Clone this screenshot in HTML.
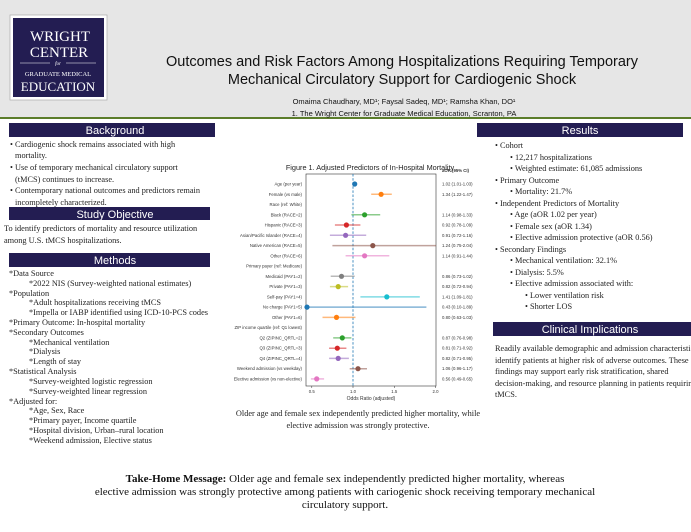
<!DOCTYPE html>
<html><head><meta charset="utf-8"><style>
html,body{margin:0;padding:0;background:#fff;}
svg{display:block}
.s{font-family:"Liberation Serif",serif;font-size:8.3px;fill:#222}
.h{font-family:"Liberation Sans",sans-serif;font-size:11px;fill:#fff}
.l{font-family:"Liberation Sans",sans-serif;font-size:4.3px;fill:#333}
</style></head><body>
<svg width="691" height="532" viewBox="0 0 691 532" xmlns="http://www.w3.org/2000/svg">
<rect x="0" y="0" width="691" height="117" fill="#e6e6e6"/>
<rect x="0" y="117" width="691" height="2" fill="#5b7d2b"/>
<!-- logo -->
<rect x="10" y="15" width="97" height="85" fill="#fff" stroke="#aaa" stroke-width="0.7"/>
<rect x="13" y="18" width="91" height="79" fill="#231d52"/>
<g font-family="Liberation Serif,serif" fill="#fff" text-anchor="middle">
<text x="60" y="41" font-size="15">WRIGHT</text>
<text x="59" y="57" font-size="15">CENTER</text>
<line x1="20" y1="63" x2="50" y2="63" stroke="#fff" stroke-width="0.5"/><line x1="66" y1="63" x2="96" y2="63" stroke="#fff" stroke-width="0.5"/>
<text x="58" y="65" font-size="5" font-style="italic">for</text>
<text x="58" y="76" font-size="6.5">GRADUATE MEDICAL</text>
<text x="58" y="91" font-size="13">EDUCATION</text>
</g>
<g font-family="Liberation Sans,sans-serif" fill="#111" text-anchor="middle">
<text x="402" y="66" font-size="14.5">Outcomes and Risk Factors Among Hospitalizations Requiring Temporary</text>
<text x="402" y="84" font-size="14.5">Mechanical Circulatory Support for Cardiogenic Shock</text>
<text x="404" y="104" font-size="7.5">Omaima Chaudhary, MD¹; Faysal Sadeq, MD¹; Ramsha Khan, DO¹</text>
<text x="404" y="116" font-size="7.5">1. The Wright Center for Graduate Medical Education, Scranton, PA</text>
</g>
<!-- left column -->
<rect x="9" y="123" width="206" height="14" fill="#231d52"/>
<text class="h" x="115" y="134" text-anchor="middle">Background</text>
<g class="s">
<text x="10" y="147">•  Cardiogenic shock remains associated with high</text>
<text x="15" y="158">mortality.</text>
<text x="10" y="170">•  Use of temporary mechanical circulatory support</text>
<text x="15" y="182">(tMCS) continues to increase.</text>
<text x="10" y="193">•  Contemporary national outcomes and predictors remain</text>
<text x="15" y="205">incompletely characterized.</text>
</g>
<rect x="9" y="207" width="201" height="13" fill="#231d52"/>
<text class="h" x="115" y="218" text-anchor="middle">Study Objective</text>
<g class="s">
<text x="4" y="231">To identify predictors of mortality and resource utilization</text>
<text x="4" y="243">among U.S. tMCS hospitalizations.</text>
</g>
<rect x="9" y="253" width="201" height="14" fill="#231d52"/>
<text class="h" x="115" y="264" text-anchor="middle">Methods</text>
<g class="s">
<text x="9" y="276">*Data Source</text>
<text x="29" y="286">*2022 NIS (Survey-weighted national estimates)</text>
<text x="9" y="296">*Population</text>
<text x="29" y="305">*Adult hospitalizations receiving tMCS</text>
<text x="29" y="315">*Impella or IABP identified using ICD-10-PCS codes</text>
<text x="9" y="325">*Primary Outcome: In-hospital mortality</text>
<text x="9" y="335">*Secondary Outcomes</text>
<text x="29" y="345">*Mechanical ventilation</text>
<text x="29" y="354">*Dialysis</text>
<text x="29" y="364">*Length of stay</text>
<text x="9" y="374">*Statistical Analysis</text>
<text x="29" y="384">*Survey-weighted logistic regression</text>
<text x="29" y="394">*Survey-weighted linear regression</text>
<text x="9" y="404">*Adjusted for:</text>
<text x="29" y="413">*Age, Sex, Race</text>
<text x="29" y="423">*Primary payer, Income quartile</text>
<text x="29" y="433">*Hospital division, Urban–rural location</text>
<text x="29" y="443">*Weekend admission, Elective status</text>
</g>
<!-- chart -->
<text x="370" y="170" font-family="Liberation Sans,sans-serif" font-size="7.3" fill="#222" text-anchor="middle">Figure 1. Adjusted Predictors of In-Hospital Mortality</text>
<rect x="306" y="174" width="130" height="212" fill="none" stroke="#333" stroke-width="0.6"/>
<line x1="353" y1="174" x2="353" y2="386" stroke="#1f77b4" stroke-width="0.8" stroke-dasharray="2.5,1.6"/>
<g class="l" text-anchor="end">
<text x="302" y="185.5">Age (per year)</text>
<text x="302" y="195.8">Female (vs male)</text>
<text x="302" y="206">Race (ref: White)</text>
<text x="302" y="216.3">Black (RACE=2)</text>
<text x="302" y="226.5">Hispanic (RACE=3)</text>
<text x="302" y="236.8">Asian/Pacific Islander (RACE=4)</text>
<text x="302" y="247.1">Native American (RACE=5)</text>
<text x="302" y="257.3">Other (RACE=6)</text>
<text x="302" y="267.6">Primary payer (ref: Medicare)</text>
<text x="302" y="277.8">Medicaid (PAY1=2)</text>
<text x="302" y="288.1">Private (PAY1=3)</text>
<text x="302" y="298.4">Self-pay (PAY1=4)</text>
<text x="302" y="308.6">No charge (PAY1=5)</text>
<text x="302" y="318.9">Other (PAY1=6)</text>
<text x="302" y="329.1">ZIP income quartile (ref: Q1 lowest)</text>
<text x="302" y="339.4">Q2 (ZIPINC_QRTL=2)</text>
<text x="302" y="349.7">Q3 (ZIPINC_QRTL=3)</text>
<text x="302" y="359.9">Q4 (ZIPINC_QRTL=4)</text>
<text x="302" y="370.2">Weekend admission (vs weekday)</text>
<text x="302" y="380.4">Elective admission (vs non-elective)</text>
</g>
<g class="l">
<text x="442" y="172" font-weight="bold">aOR (95% CI)</text>
<text x="442" y="185.5">1.02 (1.01-1.03)</text>
<text x="442" y="195.8">1.34 (1.22-1.47)</text>
<text x="442" y="216.3">1.14 (0.98-1.33)</text>
<text x="442" y="226.5">0.92 (0.78-1.09)</text>
<text x="442" y="236.8">0.91 (0.72-1.16)</text>
<text x="442" y="247.1">1.24 (0.75-2.04)</text>
<text x="442" y="257.3">1.14 (0.91-1.44)</text>
<text x="442" y="277.8">0.86 (0.73-1.02)</text>
<text x="442" y="288.1">0.82 (0.72-0.94)</text>
<text x="442" y="298.4">1.41 (1.09-1.81)</text>
<text x="442" y="308.6">0.43 (0.10-1.89)</text>
<text x="442" y="318.9">0.80 (0.63-1.03)</text>
<text x="442" y="339.4">0.87 (0.76-0.98)</text>
<text x="442" y="349.7">0.81 (0.71-0.92)</text>
<text x="442" y="359.9">0.82 (0.71-0.95)</text>
<text x="442" y="370.2">1.06 (0.96-1.17)</text>
<text x="442" y="380.4">0.56 (0.49-0.65)</text>
</g>
<g stroke-width="1.5" stroke-opacity="0.55">
<line x1="353.8" x2="355.5" y1="184" y2="184" stroke="#1f77b4"/>
<line x1="371.2" x2="391.8" y1="194.3" y2="194.3" stroke="#ff7f0e"/>
<line x1="351.4" x2="380.2" y1="214.8" y2="214.8" stroke="#2ca02c"/>
<line x1="334.9" x2="360.4" y1="225" y2="225" stroke="#d62728"/>
<line x1="329.9" x2="366.2" y1="235.3" y2="235.3" stroke="#9467bd"/>
<line x1="332.4" x2="436" y1="245.6" y2="245.6" stroke="#8c564b"/>
<line x1="345.6" x2="389.3" y1="255.8" y2="255.8" stroke="#e377c2"/>
<line x1="330.7" x2="354.7" y1="276.3" y2="276.3" stroke="#7f7f7f"/>
<line x1="329.9" x2="348.1" y1="286.6" y2="286.6" stroke="#bcbd22"/>
<line x1="360.4" x2="419.8" y1="296.9" y2="296.9" stroke="#17becf"/>
<line x1="306" x2="426.4" y1="307.1" y2="307.1" stroke="#1f77b4"/>
<line x1="322.5" x2="355.5" y1="317.4" y2="317.4" stroke="#ff7f0e"/>
<line x1="333.2" x2="351.4" y1="337.9" y2="337.9" stroke="#2ca02c"/>
<line x1="329.1" x2="346.4" y1="348.2" y2="348.2" stroke="#d62728"/>
<line x1="329.1" x2="348.9" y1="358.4" y2="358.4" stroke="#9467bd"/>
<line x1="349.7" x2="367" y1="368.7" y2="368.7" stroke="#8c564b"/>
<line x1="310.9" x2="324.1" y1="378.9" y2="378.9" stroke="#e377c2"/>
</g>
<g>
<circle cx="354.7" cy="184" r="2.6" fill="#1f77b4"/>
<circle cx="381.1" cy="194.3" r="2.6" fill="#ff7f0e"/>
<circle cx="364.6" cy="214.8" r="2.6" fill="#2ca02c"/>
<circle cx="346.4" cy="225" r="2.6" fill="#d62728"/>
<circle cx="345.6" cy="235.3" r="2.6" fill="#9467bd"/>
<circle cx="372.8" cy="245.6" r="2.6" fill="#8c564b"/>
<circle cx="364.6" cy="255.8" r="2.6" fill="#e377c2"/>
<circle cx="341.5" cy="276.3" r="2.6" fill="#7f7f7f"/>
<circle cx="338.2" cy="286.6" r="2.6" fill="#bcbd22"/>
<circle cx="386.8" cy="296.9" r="2.6" fill="#17becf"/>
<circle cx="307" cy="307.1" r="2.6" fill="#1f77b4"/>
<circle cx="336.5" cy="317.4" r="2.6" fill="#ff7f0e"/>
<circle cx="342.3" cy="337.9" r="2.6" fill="#2ca02c"/>
<circle cx="337.3" cy="348.2" r="2.6" fill="#d62728"/>
<circle cx="338.2" cy="358.4" r="2.6" fill="#9467bd"/>
<circle cx="358" cy="368.7" r="2.6" fill="#8c564b"/>
<circle cx="316.7" cy="378.9" r="2.6" fill="#e377c2"/>
</g>
<g stroke="#333" stroke-width="0.5">
<line x1="311.8" x2="311.8" y1="386" y2="388"/><line x1="353" x2="353" y1="386" y2="388"/><line x1="394.3" x2="394.3" y1="386" y2="388"/><line x1="435.5" x2="435.5" y1="386" y2="388"/>
</g>
<g class="l" text-anchor="middle">
<text x="311.8" y="393">0.5</text><text x="353" y="393">1.0</text><text x="394.3" y="393">1.5</text><text x="435.5" y="393">2.0</text>
<text x="371" y="400" font-size="5">Odds Ratio (adjusted)</text>
</g>
<g class="s" text-anchor="middle">
<text x="358" y="416">Older age and female sex independently predicted higher mortality, while</text>
<text x="358" y="428">elective admission was strongly protective.</text>
</g>
<!-- right column -->
<rect x="477" y="123" width="206" height="14" fill="#231d52"/>
<text class="h" x="580" y="134" text-anchor="middle">Results</text>
<g class="s">
<text x="495" y="148">•  Cohort</text>
<text x="510" y="160">•  12,217 hospitalizations</text>
<text x="510" y="171">•  Weighted estimate: 61,085 admissions</text>
<text x="495" y="183">•  Primary Outcome</text>
<text x="510" y="194">•  Mortality: 21.7%</text>
<text x="495" y="206">•  Independent Predictors of Mortality</text>
<text x="510" y="217">•  Age (aOR 1.02 per year)</text>
<text x="510" y="229">•  Female sex (aOR 1.34)</text>
<text x="510" y="240">•  Elective admission protective (aOR 0.56)</text>
<text x="495" y="252">•  Secondary Findings</text>
<text x="510" y="263">•  Mechanical ventilation: 32.1%</text>
<text x="510" y="275">•  Dialysis: 5.5%</text>
<text x="510" y="286">•  Elective admission associated with:</text>
<text x="525" y="298">•  Lower ventilation risk</text>
<text x="525" y="309">•  Shorter LOS</text>
</g>
<rect x="493" y="322" width="198" height="14" fill="#231d52"/>
<text class="h" x="590" y="333" text-anchor="middle">Clinical Implications</text>
<g class="s">
<text x="495" y="351">Readily available demographic and admission characteristics</text>
<text x="495" y="363">identify patients at higher risk of adverse outcomes. These</text>
<text x="495" y="374">findings may support early risk stratification, shared</text>
<text x="495" y="386">decision-making, and resource planning in patients requiring</text>
<text x="495" y="397">tMCS.</text>
</g>
<!-- take home -->
<g font-family="Liberation Serif,serif" font-size="11" fill="#111" text-anchor="middle">
<text x="345" y="482"><tspan font-weight="bold">Take-Home Message:</tspan> Older age and female sex independently predicted higher mortality, whereas</text>
<text x="345" y="495">elective admission was strongly protective among patients with cariogenic shock receiving temporary mechanical</text>
<text x="345" y="508">circulatory support.</text>
</g>
</svg>
</body></html>
